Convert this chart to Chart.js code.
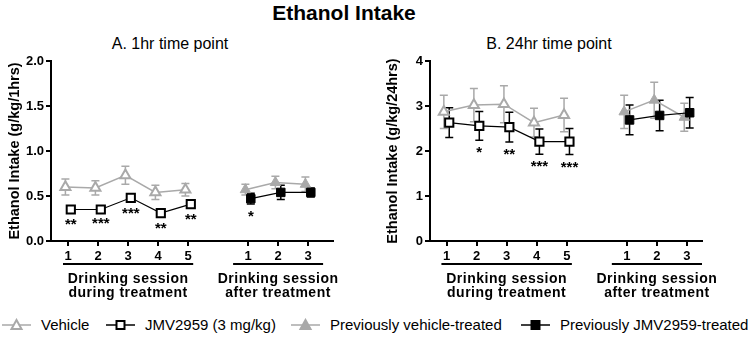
<!DOCTYPE html>
<html>
<head>
<meta charset="utf-8">
<script src="https://cdn.jsdelivr.net/npm/chart.js@4.4.1/dist/chart.umd.min.js"></script>
<style>
  body { margin: 0; background: #fff; font-family: "Liberation Sans", Arial, sans-serif; }
  #wrap { position: relative; width: 756px; height: 338px; overflow: hidden; }
  .abs { position: absolute; white-space: nowrap; }
  #title { left: 244px; width: 200px; top: 1px; text-align: center; font-weight: bold; font-size: 21px; }
  .sub { top: 35px; width: 200px; text-align: center; font-size: 16px; }
  .box { position: absolute; top: 0; width: 378px; height: 310px; }
  .leg { top: 316px; font-size: 15px; line-height: 18px; display: flex; align-items: center; }
  .leg canvas { margin-right: 10px; }
</style>
</head>
<body>
<div id="wrap">
  <div id="title" class="abs">Ethanol Intake</div>
  <div class="abs sub" style="left:70px">A. 1hr time point</div>
  <div class="abs sub" style="left:449px">B. 24hr time point</div>
  <div class="box" style="left:0"><canvas id="c1" width="378" height="310"></canvas></div>
  <div class="box" style="left:378px"><canvas id="c2" width="378" height="310"></canvas></div>
  <div class="abs leg" style="left:2px"><canvas id="l1" width="29" height="14"></canvas>Vehicle</div>
  <div class="abs leg" style="left:106px"><canvas id="l2" width="29" height="14"></canvas>JMV2959 (3 mg/kg)</div>
  <div class="abs leg" style="left:291px"><canvas id="l3" width="29" height="14"></canvas>Previously vehicle-treated</div>
  <div class="abs leg" style="left:521px"><canvas id="l4" width="29" height="14"></canvas>Previously JMV2959-treated</div>
</div>
<script>
const sessionsDuring = ["1", "2", "3", "4", "5"];
const sessionsAfter = ["1", "2", "3"];

// 1 hr time point (g/kg/1hrs), mean and SEM
const vehicle1h = [0.60, 0.59, 0.73, 0.54, 0.57];
const vehicle1hSem = [0.09, 0.08, 0.10, 0.08, 0.07];
const jmv1h = [0.35, 0.35, 0.48, 0.31, 0.41];
const jmv1hSem = [0.03, 0.02, 0.03, 0.03, 0.03];
const jmv1hStars = ["**", "***", "***", "**", "**"];
const prevVehicle1h = [0.57, 0.65, 0.63];
const prevVehicle1hSem = [0.06, 0.07, 0.08];
const prevJmv1h = [0.47, 0.54, 0.54];
const prevJmv1hSem = [0.06, 0.08, 0.05];
const prevJmv1hStars = ["*", "", ""];

// 24 hr time point (g/kg/24hrs)
const vehicle24h = [2.87, 3.02, 3.04, 2.63, 2.80];
const vehicle24hSem = [0.37, 0.37, 0.41, 0.32, 0.37];
const jmv24h = [2.63, 2.56, 2.53, 2.21, 2.21];
const jmv24hSem = [0.33, 0.32, 0.33, 0.28, 0.29];
const jmv24hStars = ["", "*", "**", "***", "***"];
const prevVehicle24h = [2.87, 3.13, 2.75];
const prevVehicle24hSem = [0.37, 0.40, 0.31];
const prevJmv24h = [2.69, 2.79, 2.85];
const prevJmv24hSem = [0.33, 0.34, 0.34];
const prevJmv24hStars = ["", "", ""];

const GREY = "#a9a9a9";
const BLACK = "#000000";
const FONT = "'Liberation Sans', Arial, sans-serif";
const AFTER_START = 6; // after-treatment sessions sit two slots right of session 5
const DODGE = 0.09;

function pts(values, start, shift) {
  return values.map((v, i) => ({ x: start + i + shift, y: v }));
}

function tickLabel(v) {
  if (v < AFTER_START) return sessionsDuring[v];
  return sessionsAfter[v - AFTER_START];
}

const errorBars = {
  id: "errorBars",
  beforeDatasetsDraw(chart) {
    const { ctx, scales: { y } } = chart;
    ctx.save();
    for (let d = chart.data.datasets.length - 1; d >= 0; d--) {
      const ds = chart.data.datasets[d];
      const meta = chart.getDatasetMeta(d);
      ctx.strokeStyle = ds.borderColor;
      ctx.lineWidth = 1.5;
      meta.data.forEach((pt, i) => {
        const v = ds.data[i].y, e = ds.sem[i];
        const top = y.getPixelForValue(v + e);
        const bot = y.getPixelForValue(v - e);
        ctx.beginPath();
        ctx.moveTo(pt.x, top); ctx.lineTo(pt.x, bot);
        ctx.moveTo(pt.x - 4, top); ctx.lineTo(pt.x + 4, top);
        ctx.moveTo(pt.x - 4, bot); ctx.lineTo(pt.x + 4, bot);
        ctx.stroke();
      });
    }
    ctx.restore();
  },
  afterDatasetsDraw(chart) {
    const { ctx, scales: { y } } = chart;
    ctx.save();
    ctx.font = "bold 15px " + FONT;
    ctx.textAlign = "center";
    ctx.textBaseline = "alphabetic";
    ctx.fillStyle = BLACK;
    chart.data.datasets.forEach((ds, d) => {
      if (!ds.stars) return;
      const meta = chart.getDatasetMeta(d);
      meta.data.forEach((pt, i) => {
        if (!ds.stars[i]) return;
        const bot = y.getPixelForValue(ds.data[i].y - ds.sem[i]);
        ctx.fillText(ds.stars[i], pt.x, bot + 17);
      });
    });
    ctx.restore();
  },
};

const groupLabels = {
  id: "groupLabels",
  afterDraw(chart, args, opts) {
    const { ctx, chartArea, scales: { x } } = chart;
    ctx.save();
    ctx.strokeStyle = BLACK;
    ctx.lineWidth = 2;
    ctx.fillStyle = BLACK;
    ctx.font = "bold 14px " + FONT;
    ctx.letterSpacing = "0.5px";
    ctx.textAlign = "center";
    ctx.textBaseline = "alphabetic";
    opts.groups.forEach(g => {
      const x0 = x.getPixelForValue(g.from), x1 = x.getPixelForValue(g.to);
      const yl = chartArea.bottom + 23;
      ctx.beginPath(); ctx.moveTo(x0, yl); ctx.lineTo(x1, yl); ctx.stroke();
      g.lines.forEach((t, k) => ctx.fillText(t, (x0 + x1) / 2, yl + 19 + k * 13.5));
    });
    ctx.restore();
  },
};

function makeChart(id, cfg) {
  const datasets = [
    { label: "JMV2959 (3 mg/kg)", data: pts(cfg.jmv, 0, DODGE), sem: cfg.jmvSem, stars: cfg.jmvStars,
      borderColor: BLACK, backgroundColor: "#fff", pointStyle: "rect", pointRadius: 5.8, pointBorderWidth: 2, borderWidth: 1.2 },
    { label: "Vehicle", data: pts(cfg.veh, 0, -DODGE), sem: cfg.vehSem,
      borderColor: GREY, backgroundColor: "#fff", pointStyle: "triangle", pointRadius: 5.8, pointBorderWidth: 2, borderWidth: 1.5 },
    { label: "Previously JMV2959-treated", data: pts(cfg.prevJmv, AFTER_START, DODGE), sem: cfg.prevJmvSem, stars: cfg.prevJmvStars,
      borderColor: BLACK, backgroundColor: BLACK, pointStyle: "rect", pointRadius: 6, pointBorderWidth: 1, borderWidth: 1.2 },
    { label: "Previously vehicle-treated", data: pts(cfg.prevVeh, AFTER_START, -DODGE), sem: cfg.prevVehSem,
      borderColor: GREY, backgroundColor: GREY, pointStyle: "triangle", pointRadius: 6, pointBorderWidth: 1, borderWidth: 1.5 },
  ];
  datasets.forEach(ds => { ds.showLine = true; ds.pointBackgroundColor = ds.backgroundColor; });

  const tickFont = { family: FONT, size: 13, weight: "bold" };
  return new Chart(document.getElementById(id), {
    type: "scatter",
    data: { datasets },
    options: {
      responsive: false,
      animation: false,
      layout: { padding: { top: 61, bottom: 49, left: 0, right: cfg.padRight } },
      plugins: {
        legend: { display: false },
        tooltip: { enabled: false },
        groupLabels: {
          groups: [
            { from: -0.17, to: 4.17, lines: ["Drinking session", "during treatment"] },
            { from: 5.5, to: 8.5, lines: ["Drinking session", "after treatment"] },
          ],
        },
      },
      scales: {
        x: {
          type: "linear",
          min: cfg.xMin, max: cfg.xMax,
          afterBuildTicks(scale) {
            const t = sessionsDuring.map((s, i) => ({ value: i }))
              .concat(sessionsAfter.map((s, i) => ({ value: AFTER_START + i })));
            scale.ticks = t;
          },
          afterFit(scale) { scale.height = 20; },
          ticks: { callback: v => tickLabel(v), color: BLACK, font: tickFont, padding: 3, maxRotation: 0 },
          grid: { drawOnChartArea: false, drawTicks: true, tickLength: 5, color: BLACK, lineWidth: 2 },
          border: { color: BLACK, width: 2 },
        },
        y: {
          min: 0, max: cfg.yMax,
          afterFit(scale) { scale.width = cfg.yWidth; },
          ticks: { stepSize: cfg.yStep, callback: v => v.toFixed(cfg.yDec), color: BLACK, font: tickFont, padding: 2 },
          grid: { drawOnChartArea: false, drawTicks: true, tickLength: 5, color: BLACK, lineWidth: 2 },
          border: { color: BLACK, width: 2 },
          title: { display: true, text: cfg.yTitle, color: BLACK, font: { family: FONT, size: 14.5, weight: "bold" }, padding: { top: 6, bottom: 0 } },
        },
      },
    },
    plugins: [errorBars, groupLabels],
  });
}

makeChart("c1", {
  jmv: jmv1h, jmvSem: jmv1hSem, jmvStars: jmv1hStars,
  veh: vehicle1h, vehSem: vehicle1hSem,
  prevJmv: prevJmv1h, prevJmvSem: prevJmv1hSem, prevJmvStars: prevJmv1hStars,
  prevVeh: prevVehicle1h, prevVehSem: prevVehicle1hSem,
  yMax: 2, yStep: 0.5, yDec: 1, yTitle: "Ethanol Intake (g/kg/1hrs)",
  yWidth: 51, padRight: 45, xMin: -0.57, xMax: 8.83,
});

makeChart("c2", {
  jmv: jmv24h, jmvSem: jmv24hSem, jmvStars: jmv24hStars,
  veh: vehicle24h, vehSem: vehicle24hSem,
  prevJmv: prevJmv24h, prevJmvSem: prevJmv24hSem, prevJmvStars: prevJmv24hStars,
  prevVeh: prevVehicle24h, prevVehSem: prevVehicle24hSem,
  yMax: 4, yStep: 1, yDec: 0, yTitle: "Ethanol Intake (g/kg/24hrs)",
  yWidth: 52, padRight: 54, xMin: -0.55, xMax: 8.5,
});

// legend swatches
function swatch(id, color, fill, shape) {
  const ctx = document.getElementById(id).getContext("2d");
  ctx.strokeStyle = color;
  ctx.lineWidth = 1.5;
  ctx.beginPath(); ctx.moveTo(0, 7); ctx.lineTo(29, 7); ctx.stroke();
  ctx.fillStyle = fill;
  ctx.lineWidth = 2;
  ctx.beginPath();
  if (shape === "rect") {
    ctx.rect(10.5, 3, 8, 8);
  } else {
    ctx.moveTo(14.5, 2); ctx.lineTo(19.5, 11); ctx.lineTo(9.5, 11); ctx.closePath();
  }
  ctx.fill(); ctx.stroke();
}
swatch("l1", GREY, "#fff", "triangle");
swatch("l2", BLACK, "#fff", "rect");
swatch("l3", GREY, GREY, "triangle");
swatch("l4", BLACK, BLACK, "rect");
</script>
</body>
</html>
